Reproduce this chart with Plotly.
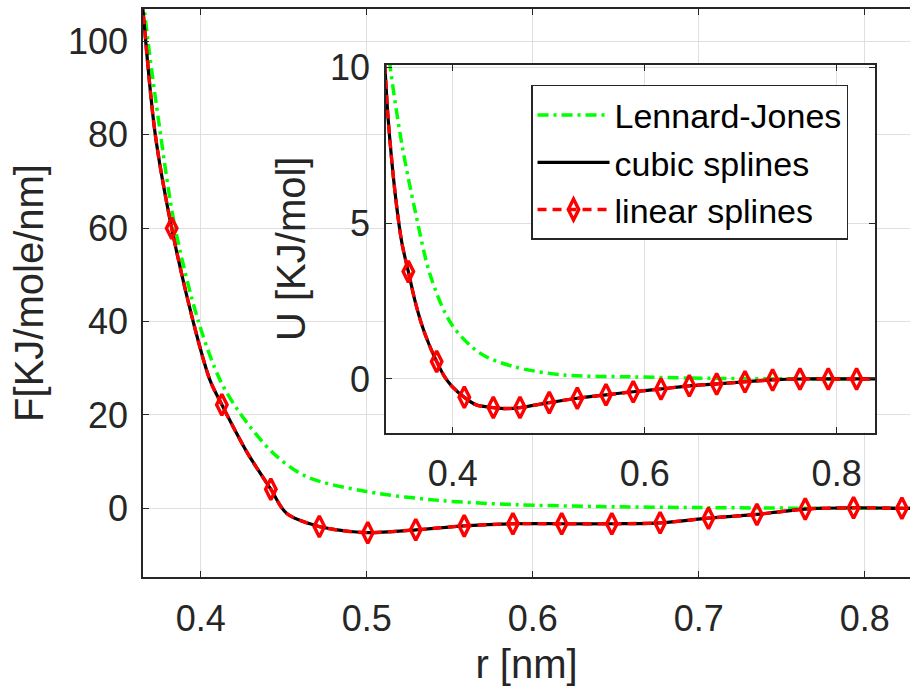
import plotly.graph_objects as go

# ---------------- main panel: force F(r) ----------------
x_ticks_main = [0.4, 0.5, 0.6, 0.7, 0.8]
x_ticklabels_main = ["0.4", "0.5", "0.6", "0.7", "0.8"]
y_ticks_main = [0, 20, 40, 60, 80, 100]
y_ticklabels_main = ["0", "20", "40", "60", "80", "100"]

# spline knots (linear splines, marked with diamonds)
r_knots_F = [0.3533, 0.3825, 0.4127, 0.4422, 0.4714, 0.5006, 0.5295, 0.5587, 0.5880,
             0.6174, 0.6476, 0.6767, 0.7058, 0.7350, 0.7641, 0.7932, 0.8223]
F_knots = [160.0, 60.0, 22.2, 4.1, -3.9, -5.2, -4.6, -3.75, -3.3,
           -3.3, -3.3, -3.1, -2.1, -1.3, -0.15, 0.13, 0.0]
# extra points read along the force curve between knots
r_extra_F = [0.3600, 0.3651, 0.3725, 0.3955, 0.4056, 0.4277, 0.4518, 0.4860, 0.7470, 0.8300]
F_extra_F = [128.0, 107.0, 80.3, 39.9, 27.4, 12.1, -1.1, -4.8, -0.8, 0.0]

# Lennard-Jones force
r_LJ_F = [0.3625, 0.3660, 0.3750, 0.3846, 0.3986, 0.4116, 0.4236, 0.4437, 0.4637,
          0.4997, 0.5438, 0.5898, 0.6400, 0.7000, 0.7600, 0.8300]
F_LJ = [125.0, 107.0, 82.0, 60.0, 40.0, 27.5, 20.4, 11.8, 6.8,
        3.6, 1.7, 0.8, 0.39, 0.17, 0.04, 0.0]

# ---------------- inset: potential U(r) ----------------
x_ticks_in = [0.4, 0.6, 0.8]
x_ticklabels_in = ["0.4", "0.6", "0.8"]
y_ticks_in = [0, 5, 10]
y_ticklabels_in = ["0", "5", "10"]

r_knots_U = [0.3246, 0.3538, 0.3833, 0.4121, 0.4423, 0.4701, 0.5006, 0.5298, 0.5597,
             0.5881, 0.6170, 0.6465, 0.6750, 0.7045, 0.7333, 0.7618, 0.7913, 0.8208]
U_knots = [12.5, 3.45, 0.56, -0.59, -0.92, -0.92, -0.76, -0.62, -0.51,
           -0.41, -0.32, -0.22, -0.16, -0.09, -0.03, 0.0, 0.0, 0.0]
r_extra_U = [0.3306, 0.3329, 0.3399, 0.3469, 0.3608, 0.3677, 0.3755, 0.3910, 0.3990,
             0.4250, 0.4560, 0.8450]
U_extra_U = [9.4, 8.3, 6.0, 4.4, 2.5, 1.75, 1.1, 0.1, -0.23,
             -0.84, -0.95, 0.0]

r_LJ_U = [0.3320, 0.3347, 0.3469, 0.3607, 0.3770, 0.3990, 0.4284, 0.4631,
          0.5152, 0.5847, 0.6500, 0.7000, 0.8450]
U_LJ = [11.0, 10.08, 7.57, 5.43, 3.3, 1.75, 0.83, 0.40,
        0.13, 0.07, 0.03, 0.01, 0.0]

GREEN = "#00FF00"
RED = "#FF0000"
BLACK = "#000000"
AX = "#262626"
GRID = "#dfdfdf"
FONT = "Liberation Sans, Arial, sans-serif"


def merged(rk, yk, re, ye):
    pts = sorted(list(zip(rk, yk, [True] * len(rk))) + list(zip(re, ye, [False] * len(re))),
                 key=lambda p: p[0])
    return [p[0] for p in pts], [p[1] for p in pts], [p[2] for p in pts]


rF, FF, kF = merged(r_knots_F, F_knots, r_extra_F, F_extra_F)
rU, UU, kU = merged(r_knots_U, U_knots, r_extra_U, U_extra_U)

LJ_DASH = "11px,5px,3px,5px"
RED_DASH = "9px,6px"
SMOOTH = 0.9
MSYM = "diamond-tall-open"
MSIZE = 15

fig = go.Figure()

# main traces
fig.add_trace(go.Scatter(x=r_LJ_F, y=F_LJ, mode="lines", xaxis="x", yaxis="y",
                         line=dict(color=GREEN, width=3.5, dash=LJ_DASH, shape="spline", smoothing=SMOOTH),
                         showlegend=False, hoverinfo="skip"))
fig.add_trace(go.Scatter(x=rF, y=FF, mode="lines", xaxis="x", yaxis="y",
                         line=dict(color=BLACK, width=3.2, shape="spline", smoothing=SMOOTH),
                         showlegend=False, hoverinfo="skip"))
fig.add_trace(go.Scatter(x=rF, y=FF, mode="lines+markers", xaxis="x", yaxis="y",
                         line=dict(color=RED, width=3.4, dash=RED_DASH, shape="spline", smoothing=SMOOTH),
                         marker=dict(symbol=MSYM, size=MSIZE,
                                     color=[RED if k else "rgba(0,0,0,0)" for k in kF],
                                     line=dict(width=3.4)),
                         showlegend=False, hoverinfo="skip"))

# inset traces (these carry the legend)
fig.add_trace(go.Scatter(x=r_LJ_U, y=U_LJ, mode="lines", xaxis="x2", yaxis="y2", name="Lennard-Jones",
                         line=dict(color=GREEN, width=3.5, dash=LJ_DASH, shape="spline", smoothing=SMOOTH),
                         hoverinfo="skip"))
fig.add_trace(go.Scatter(x=rU, y=UU, mode="lines", xaxis="x2", yaxis="y2", name="cubic splines",
                         line=dict(color=BLACK, width=3.2, shape="spline", smoothing=SMOOTH),
                         hoverinfo="skip"))
fig.add_trace(go.Scatter(x=rU, y=UU, mode="lines+markers", xaxis="x2", yaxis="y2", name="linear splines",
                         line=dict(color=RED, width=3.4, dash=RED_DASH, shape="spline", smoothing=SMOOTH),
                         marker=dict(symbol=MSYM, size=MSIZE,
                                     color=[RED if k else "rgba(0,0,0,0)" for k in kU],
                                     line=dict(width=3.4)),
                         hoverinfo="skip"))

tick_font = dict(family=FONT, size=36, color=AX)
title_font = dict(family=FONT, size=40, color=AX)

common_axis = dict(showline=True, linecolor=AX, linewidth=1.5, ticks="inside", ticklen=6,
                   tickcolor=AX, tickwidth=1, showgrid=True, gridcolor=GRID, gridwidth=1,
                   zeroline=False, tickfont=tick_font, automargin=False)

fig.update_layout(
    template="none",
    width=910, height=692,
    margin=dict(l=143, r=0, t=9, b=115, pad=0),
    paper_bgcolor="white", plot_bgcolor="white",
    font=dict(family=FONT, color=AX),
    xaxis=dict(domain=[0, 1], range=[0.3652, 0.8272], tickvals=x_ticks_main,
               ticktext=x_ticklabels_main, mirror="ticks", ticklabelstandoff=9,
               title=dict(text="r [nm]", font=title_font, standoff=12), **common_axis),
    yaxis=dict(domain=[0, 1], range=[-14.7, 106.95], tickvals=y_ticks_main,
               ticktext=y_ticklabels_main, mirror=False, ticklabelstandoff=6,
               title=dict(text="F[KJ/mole/nm]", font=title_font, standoff=12), **common_axis),
    xaxis2=dict(domain=[0.3168, 0.9544], anchor="y2", range=[0.3305, 0.840], tickvals=x_ticks_in,
                ticktext=x_ticklabels_in, mirror="ticks", ticklabelstandoff=9, **common_axis),
    yaxis2=dict(domain=[0.2544, 0.9014], anchor="x2", range=[-1.72, 10.09], tickvals=y_ticks_in,
                ticktext=y_ticklabels_in, mirror="ticks", ticklabelstandoff=7,
                title=dict(text="U [KJ/mol]", font=title_font, standoff=12), **common_axis),
    legend=dict(x=0.5059, y=0.8662, xanchor="left", yanchor="top",
                bgcolor="white", bordercolor=AX, borderwidth=1.5,
                font=dict(family=FONT, size=34, color="#000000"),
                itemwidth=72, tracegroupgap=0),
    showlegend=True,
)

fig.write_html("out.html")
